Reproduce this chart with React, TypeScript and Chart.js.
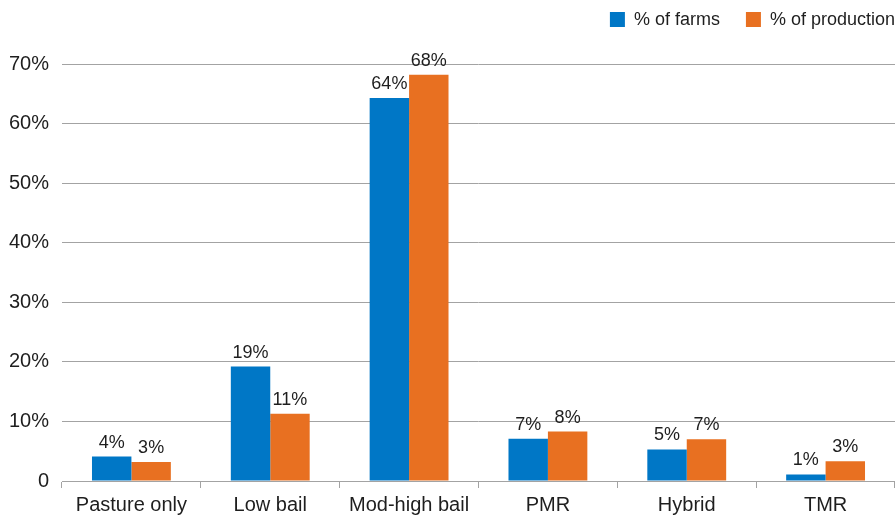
import React, { useEffect, useRef } from "react";
import { Chart, registerables } from "chart.js";

Chart.register(...registerables);

const categories = ["Pasture only", "Low bail", "Mod-high bail", "PMR", "Hybrid", "TMR"];
const seriesNames = ["% of farms", "% of production"];
const farmsPct = [4.1, 19.2, 64.3, 7.1, 5.3, 1.1];
const productionPct = [3.2, 11.3, 68.2, 8.3, 7.0, 3.3];
const yMin = 0;
const yMax = 70;
const yStep = 10;

const FONT = "'Liberation Sans', Arial, Helvetica, sans-serif";
const TEXT = "#1e1e1e";
const GRID = "#a3a3a3";
const BLUE = "#0077c6";
const ORANGE = "#e87021";

const dataLabelPlugin = {
  id: "dataLabels",
  afterDatasetsDraw(chart: any) {
    const ctx = chart.ctx;
    ctx.save();
    ctx.font = `18px ${FONT}`;
    ctx.fillStyle = TEXT;
    ctx.textAlign = "center";
    ctx.textBaseline = "alphabetic";
    chart.data.datasets.forEach((ds: any, di: number) => {
      const meta = chart.getDatasetMeta(di);
      meta.data.forEach((el: any, i: number) => {
        const v = ds.data[i];
        ctx.fillText(`${Math.round(v)}%`, el.x, el.y - 9);
      });
    });
    ctx.restore();
  },
};

const legendPlugin = {
  id: "customLegend",
  afterDraw(chart: any) {
    const ctx = chart.ctx;
    ctx.save();
    ctx.font = `18px ${FONT}`;
    const box = 15;
    const gapText = 9;
    const gapItem = 26;
    const items = chart.data.datasets.map((ds: any) => ({
      text: ds.label,
      color: ds.backgroundColor,
      w: ctx.measureText(ds.label).width,
    }));
    let total = 0;
    items.forEach((it: any, i: number) => {
      total += box + gapText + it.w + (i < items.length - 1 ? gapItem : 0);
    });
    let x = chart.width - total;
    const cy = 19.5;
    items.forEach((it: any) => {
      ctx.fillStyle = it.color;
      ctx.fillRect(x, cy - box / 2, box, box);
      x += box + gapText;
      ctx.fillStyle = TEXT;
      ctx.textAlign = "left";
      ctx.textBaseline = "middle";
      ctx.fillText(it.text, x, cy + 1);
      x += it.w + gapItem;
    });
    ctx.restore();
  },
};

export default function App() {
  const ref = useRef<HTMLCanvasElement | null>(null);

  useEffect(() => {
    if (!ref.current) return;
    const chart = new Chart(ref.current, {
      type: "bar",
      data: {
        labels: categories,
        datasets: [
          { label: seriesNames[0], data: farmsPct, backgroundColor: BLUE, borderWidth: 0 },
          { label: seriesNames[1], data: productionPct, backgroundColor: ORANGE, borderWidth: 0 },
        ],
      },
      options: {
        responsive: false,
        animation: false,
        devicePixelRatio: 1,
        layout: { padding: { top: 64, right: 0, bottom: 0, left: 0 } },
        datasets: { bar: { categoryPercentage: 0.568, barPercentage: 1.0 } },
        plugins: {
          legend: { display: false },
          tooltip: { enabled: false },
        },
        scales: {
          x: {
            grid: {
              offset: true,
              drawOnChartArea: false,
              drawTicks: true,
              tickLength: 7,
              color: GRID,
            },
            border: { display: true, color: GRID, width: 1 },
            ticks: {
              color: TEXT,
              font: { family: FONT, size: 20 },
              padding: 5,
              maxRotation: 0,
            },
            afterFit(scale: any) {
              scale.height = 36;
            },
          },
          y: {
            min: yMin,
            max: yMax,
            grid: { color: GRID, drawTicks: false, lineWidth: 1 },
            border: { display: false },
            ticks: {
              stepSize: yStep,
              color: TEXT,
              padding: 13,
              font: { family: FONT, size: 20 },
              callback: (v: any) => (Number(v) === 0 ? "0" : `${v}%`),
            },
            afterFit(scale: any) {
              scale.width = 62;
            },
          },
        },
      },
      plugins: [dataLabelPlugin, legendPlugin],
    });
    return () => chart.destroy();
  }, []);

  return (
    <div style={{ position: "absolute", left: 0, top: 0, width: 895, height: 517, background: "#fff" }}>
      <canvas ref={ref} width={895} height={517} style={{ display: "block" }} />
    </div>
  );
}
